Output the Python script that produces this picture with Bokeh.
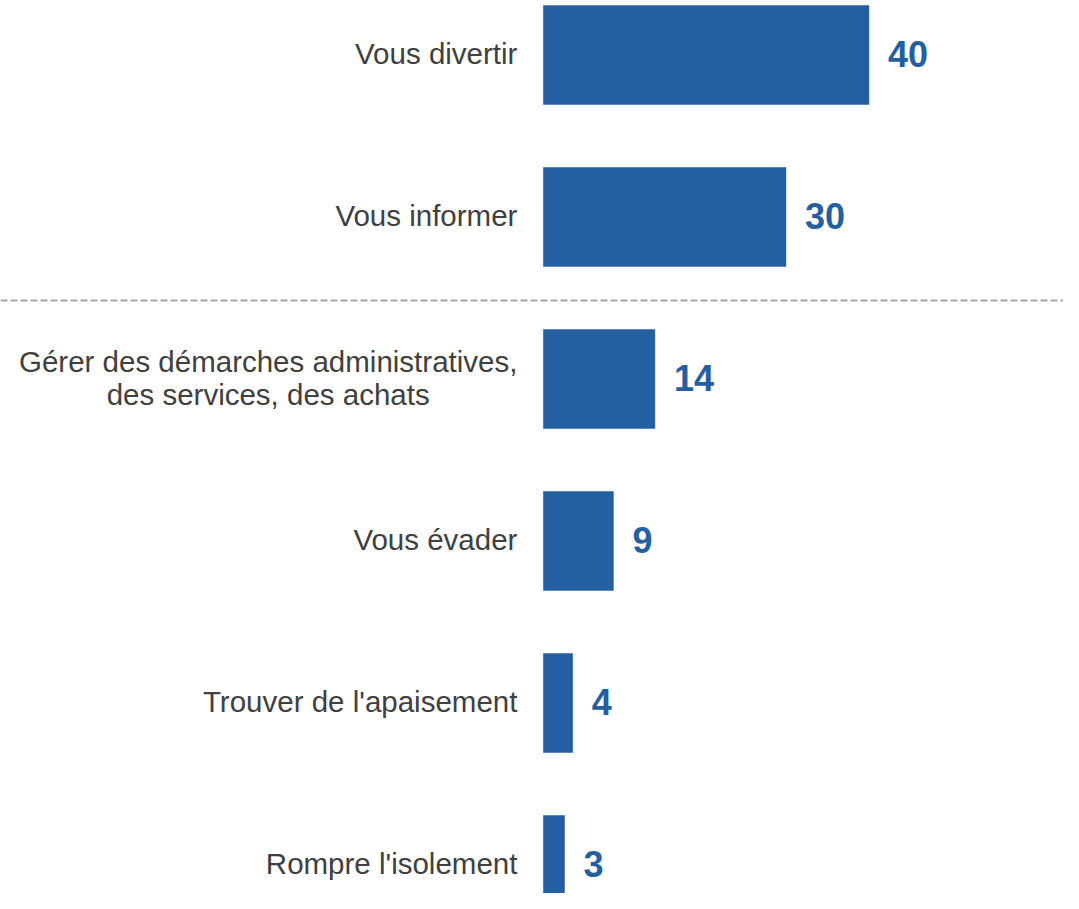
from bokeh.plotting import figure
from bokeh.models import ColumnDataSource, Range1d, Span
from bokeh.core.properties import value
from bokeh.embed import file_html
from bokeh.resources import INLINE

categories = [
    "Vous divertir",
    "Vous informer",
    "Gérer des démarches administratives,\ndes services, des achats",
    "Vous évader",
    "Trouver de l'apaisement",
    "Rompre l'isolement",
]
values = [40, 29.8, 13.7, 8.6, 3.6, 2.6]
value_labels = ["40", "30", "14", "9", "4", "3"]

BAR = "#245FA1"
rows = list(range(len(categories)))

src = ColumnDataSource(dict(
    y=rows, v=values, cat=categories, lab=value_labels,
    zero=[0] * len(rows),
))

p = figure(
    width=1063, height=893,
    x_range=Range1d(-66.7, 63.9),
    y_range=Range1d(5.176, -0.336),
    output_backend="svg", toolbar_location=None,
    min_border=0,
)
p.axis.visible = False
p.grid.visible = False
p.outline_line_color = None
p.background_fill_color = "white"

p.hbar(y="y", left="zero", right="v", height=0.611, source=src,
       fill_color=BAR, line_color=BAR, line_width=0.5)

p.text(x="zero", y="y", text="cat", source=src,
       x_offset=-26, y_offset=-1,
       text_align="center", anchor=value("center_right"),
       text_baseline="middle",
       text_font=value("Liberation Sans"), text_font_size="29.5px",
       text_color="#404040", text_line_height=1.0)

p.text(x="v", y="y", text="lab", source=src,
       x_offset=19, y_offset=-1,
       text_align="left", text_baseline="middle",
       text_font=value("Liberation Sans"), text_font_size="36px",
       text_font_style="bold", text_color=BAR)

sep = Span(location=1.515, dimension="width", line_color="#A6A6A6",
           line_width=2, line_dash="7 3")
p.add_layout(sep)

open("out.html", "w").write(file_html(p, INLINE))
